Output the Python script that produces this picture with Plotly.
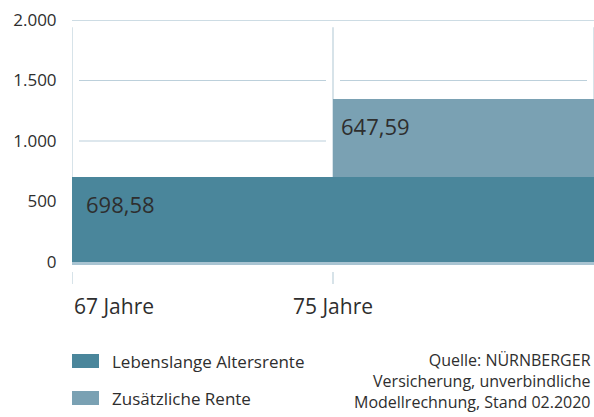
import plotly.graph_objects as go

# ---- data ----
ages = [67, 75]
age_labels = ["67 Jahre", "75 Jahre"]
lebenslang = [698.58, 698.58]
zusaetzlich = [0, 647.59]
series_names = ["Lebenslange Altersrente", "Zusätzliche Rente"]
value_labels = ["698,58", "647,59"]
y_ticks = [0, 500, 1000, 1500, 2000]
source_lines = ["Quelle: NÜRNBERGER", "Versicherung, unverbindliche", "Modellrechnung, Stand 02.2020"]

# ---- styling ----
W, H = 594, 417
ML, MR, MT, MB = 72, 0, 20, 155
PH = H - MT - MB
C_DARK = "#4a869b"
C_LIGHT = "#7aa1b3"
C_GRID = "#bcd0db"
C_AXIS = "#a9c4d2"
C_TEXT = "#2e2e2e"
FONT = "Open Sans"

step = ages[1] - ages[0]
x_end = ages[-1] + step
px_per_unit_x = (W - ML - MR) / (x_end - ages[0])


def py(pix):
    """pixel row -> paper y"""
    return (H - MB - pix) / PH


fig = go.Figure()
fig.add_bar(x=ages, y=lebenslang, width=[step] * len(ages), offset=0,
            marker=dict(color=C_DARK, line=dict(width=0)), name=series_names[0])
fig.add_bar(x=ages, y=zusaetzlich, width=[step] * len(ages), offset=0,
            marker=dict(color=C_LIGHT, line=dict(width=0)), name=series_names[1])

shapes = []
gap = 7 / px_per_unit_x
shapes.append(dict(type="line", xref="paper", yref="y", x0=0, x1=1, y0=y_ticks[-1], y1=y_ticks[-1],
                   line=dict(color=C_GRID, width=1.5), layer="below"))
for t in y_ticks[1:-1]:
    for a in ages:
        shapes.append(dict(type="line", xref="x", yref="y", x0=a + gap, x1=a + step - gap, y0=t, y1=t,
                           line=dict(color=C_GRID, width=1.2), layer="below"))
for a in ages + [x_end]:
    shapes.append(dict(type="line", xref="x", yref="y", x0=a, x1=a, y0=0, y1=y_ticks[-1] * 0.97,
                       line=dict(color=C_GRID, width=1.2), layer="below"))
for a in ages:
    shapes.append(dict(type="line", xref="x", yref="paper", x0=a, x1=a, y0=py(272), y1=py(284),
                       line=dict(color=C_GRID, width=1.2)))

annotations = []
for i, (a, lab) in enumerate(zip(ages, age_labels)):
    annotations.append(dict(x=a, y=py(306), xref="x", yref="paper", text=lab, showarrow=False,
                            xanchor="left" if i == 0 else "center", yanchor="middle",
                            font=dict(family=FONT, size=21, color=C_TEXT)))
tops = [lebenslang[0], lebenslang[1] + zusaetzlich[1]]
shifts = [12, 6]
for a, top, lab, sh in zip(ages, tops, value_labels, shifts):
    annotations.append(dict(x=a, y=top, xref="x", yref="y", text=lab, showarrow=False,
                            xanchor="left", yanchor="top", xshift=sh, yshift=-10,
                            font=dict(family=FONT, size=22, color=C_TEXT)))
leg_rows = [361, 398]
for name, col, row in zip(series_names, [C_DARK, C_LIGHT], leg_rows):
    shapes.append(dict(type="rect", xref="paper", yref="paper", x0=0, x1=27 / (W - ML - MR),
                       y0=py(row - 7), y1=py(row + 7), fillcolor=col, line=dict(width=0)))
    annotations.append(dict(x=38 / (W - ML - MR), y=py(row), xref="paper", yref="paper", text=name,
                            showarrow=False, xanchor="left", yanchor="middle",
                            font=dict(family=FONT, size=17, color=C_TEXT)))
annotations.append(dict(x=1, y=py(381), xref="paper", yref="paper", text="<br>".join(source_lines),
                        showarrow=False, xanchor="right", yanchor="middle", align="right", xshift=-1,
                        font=dict(family=FONT, size=16, color=C_TEXT)))

fig.update_layout(
    width=W, height=H, margin=dict(l=ML, r=MR, t=MT, b=MB, pad=0),
    paper_bgcolor="white", plot_bgcolor="white",
    barmode="stack", bargap=0, showlegend=False, separators=",.",
    shapes=shapes, annotations=annotations,
    xaxis=dict(range=[ages[0], x_end], showgrid=False, zeroline=False, showticklabels=False,
               showline=True, linecolor=C_AXIS, linewidth=3, ticks=""),
    yaxis=dict(range=[0, y_ticks[-1]], tickvals=y_ticks, tickformat=",d", showgrid=False, zeroline=False,
               ticks="outside", ticklen=11, tickcolor="rgba(0,0,0,0)",
               tickfont=dict(family=FONT, size=17, color=C_TEXT)),
)

fig.write_html("out.html", config={"displayModeBar": False},
               post_script="document.body.style.margin='0';document.body.style.overflow='hidden';")
